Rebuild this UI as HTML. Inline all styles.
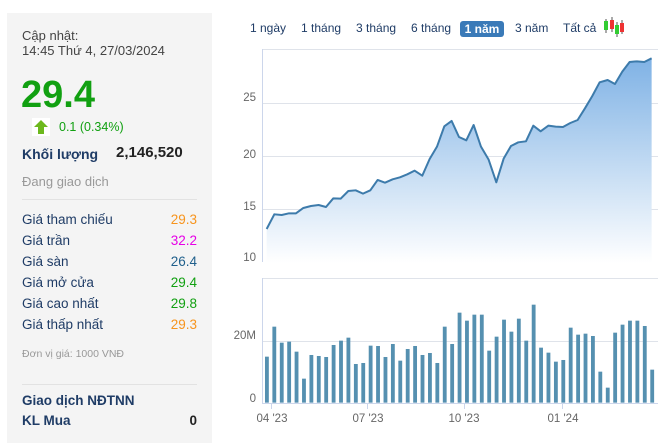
<!DOCTYPE html>
<html><head><meta charset="utf-8"><style>
body{margin:0;width:665px;height:432px;background:#fff;font-family:"Liberation Sans",Arial,sans-serif;overflow:hidden;position:relative}
.l{position:absolute;left:7px;top:13px;width:205px;height:430px;background:#f4f4f4}
.t{position:absolute;white-space:nowrap}
.row{position:absolute;left:22px;width:175px;font-size:13.5px;color:#1f3c66}
.row span{position:absolute;right:0}
.btn{position:absolute;top:21px;font-size:12px;color:#1f3c66;white-space:nowrap}
</style></head><body>
<div class="l"></div>
<div class="t" style="left:22px;top:28px;font-size:13px;color:#444;line-height:15px">Cập nhật:<br>14:45 Thứ 4, 27/03/2024</div>
<div class="t" style="left:21px;top:74px;font-size:38px;font-weight:bold;color:#11a011">29.4</div>
<div class="t" style="left:32px;top:118px;width:18px;height:18px;background:#fff"></div>
<svg style="position:absolute;left:33px;top:119px" width="16" height="16"><polygon points="8,1 15,8 11,8 11,15 5,15 5,8 1,8" fill="#6cb81d"/></svg>
<div class="t" style="left:59px;top:120px;font-size:12.5px;color:#11a011">0.1 (0.34%)</div>
<div class="t" style="left:22px;top:146px;font-size:14px;color:#1f3c66;font-weight:bold">Khối lượng</div>
<div class="t" style="left:116px;top:144px;font-size:15px;color:#222;font-weight:bold">2,146,520</div>
<div class="t" style="left:22px;top:174px;font-size:13px;color:#999">Đang giao dịch</div>
<div class="t" style="left:22px;top:199px;width:175px;border-top:1px solid #e2e2e2"></div>
<div class="row" style="top:212px">Giá tham chiếu<span style="color:#f7941d">29.3</span></div>
<div class="row" style="top:233px">Giá trần<span style="color:#e600e6">32.2</span></div>
<div class="row" style="top:254px">Giá sàn<span style="color:#1f5f8b">26.4</span></div>
<div class="row" style="top:275px">Giá mở cửa<span style="color:#11a011">29.4</span></div>
<div class="row" style="top:296px">Giá cao nhất<span style="color:#11a011">29.8</span></div>
<div class="row" style="top:317px">Giá thấp nhất<span style="color:#f7941d">29.3</span></div>
<div class="t" style="left:22px;top:348px;font-size:10.5px;color:#999">Đơn vị giá: 1000 VNĐ</div>
<div class="t" style="left:22px;top:384px;width:175px;border-top:1px solid #e2e2e2"></div>
<div class="t" style="left:22px;top:393px;font-size:13.5px;color:#1f3c66;font-weight:bold">Giao dịch NĐTNN</div>
<div class="row" style="top:413px;font-weight:bold">KL Mua<span style="color:#222">0</span></div>

<div class="btn" style="left:250px">1 ngày</div>
<div class="btn" style="left:301px">1 tháng</div>
<div class="btn" style="left:356px">3 tháng</div>
<div class="btn" style="left:411px">6 tháng</div>
<div class="btn" style="left:460px;top:21px;width:44px;height:16px;background:#3a7ab8;border-radius:3px;color:#fff;text-align:center;line-height:16px;font-weight:bold">1 năm</div>
<div class="btn" style="left:515px">3 năm</div>
<div class="btn" style="left:563px">Tất cả</div>
<svg style="position:absolute;left:603px;top:17px" width="22" height="20">
<line x1="3" y1="2" x2="3" y2="16" stroke="#555"/><rect x="1" y="4" width="4" height="9" fill="#3c3"/>
<line x1="9" y1="0" x2="9" y2="15" stroke="#555"/><rect x="7" y="3" width="4" height="9" fill="#e33"/>
<line x1="14" y1="5" x2="14" y2="20" stroke="#555"/><rect x="12" y="8" width="4" height="9" fill="#3c3"/>
<line x1="19" y1="3" x2="19" y2="17" stroke="#555"/><rect x="17" y="6" width="4" height="9" fill="#e33"/>
</svg>

<svg style="position:absolute;left:0;top:0" width="665" height="432">
<defs><linearGradient id="g" x1="0" y1="0" x2="0" y2="1"><stop offset="0" stop-color="#7fb2e5"/><stop offset="1" stop-color="#fff"/></linearGradient></defs>
<g stroke="#dfe3ea" stroke-width="1">
<line x1="263" y1="103.5" x2="658" y2="103.5"/><line x1="263" y1="156.5" x2="658" y2="156.5"/><line x1="263" y1="209.5" x2="658" y2="209.5"/>
<line x1="262" y1="49.5" x2="658" y2="49.5"/>
<line x1="262" y1="278.5" x2="658" y2="278.5"/><line x1="263" y1="341.5" x2="658" y2="341.5"/>
</g>
<line x1="262.5" y1="49" x2="262.5" y2="262" stroke="#ccd6eb"/>
<line x1="262.5" y1="278" x2="262.5" y2="403" stroke="#ccd6eb"/>
<line x1="262" y1="403.5" x2="658" y2="403.5" stroke="#ccd6eb"/>
<g fill="#666" font-size="11.5" text-anchor="end">
<text x="256" y="101">25</text><text x="256" y="158">20</text><text x="256" y="210">15</text><text x="256" y="261">10</text>
<text x="256" y="339">20M</text><text x="256" y="402">0</text></g>
<g fill="#666" font-size="11.5" text-anchor="middle">
<text x="272" y="422">04 '23</text><text x="368" y="422">07 '23</text><text x="464" y="422">10 '23</text><text x="563" y="422">01 '24</text></g>
<g stroke="#ccd6eb"><line x1="271.5" y1="403" x2="271.5" y2="409"/><line x1="367.5" y1="403" x2="367.5" y2="409"/><line x1="464.5" y1="403" x2="464.5" y2="409"/><line x1="562.5" y1="403" x2="562.5" y2="409"/></g>
<g transform="translate(225,10) scale(0.3333)">
<polygon fill="url(#g)" points="125,760 125,657 148,613 170,615 192,610 213,610 235,594 258,588 281,585 303,591 325,565 347,566 370,543 392,541 414,551 436,541 458,510 480,518 503,508 525,502 547,493 569,482 592,497 614,447 636,410 658,349 680,333 702,381 724,391 746,345 768,410 791,449 814,517 836,446 858,408 880,397 903,394 925,347 947,364 970,347 992,350 1014,351 1036,339 1058,330 1080,295 1102,258 1124,217 1148,210 1170,222 1192,185 1214,156 1236,154 1258,156 1280,145 1280,760"/>
<polyline fill="none" stroke="#3d7bab" stroke-width="6" stroke-linejoin="round" points="125,657 148,613 170,615 192,610 213,610 235,594 258,588 281,585 303,591 325,565 347,566 370,543 392,541 414,551 436,541 458,510 480,518 503,508 525,502 547,493 569,482 592,497 614,447 636,410 658,349 680,333 702,381 724,391 746,345 768,410 791,449 814,517 836,446 858,408 880,397 903,394 925,347 947,364 970,347 992,350 1014,351 1036,339 1058,330 1080,295 1102,258 1124,217 1148,210 1170,222 1192,185 1214,156 1236,154 1258,156 1280,145"/>
</g>
<g transform="translate(225,270) scale(0.3333)" fill="#5590b0" id="bars"></g>
</svg>
<script>
var h=[260,170,218,215,245,326,255,258,261,225,212,203,282,279,227,228,261,222,272,237,228,255,249,279,170,222,128,152,134,134,242,200,149,185,146,212,104,233,248,275,270,173,194,191,198,305,353,188,164,152,152,168,299];
var g=document.getElementById('bars'),s='';
for(var i=0;i<h.length;i++){var x=120+i*22.23;s+='<rect x="'+x.toFixed(1)+'" y="'+h[i]+'" width="11.5" height="'+(398-h[i])+'"/>';}
g.innerHTML=s;
</script>
</body></html>
